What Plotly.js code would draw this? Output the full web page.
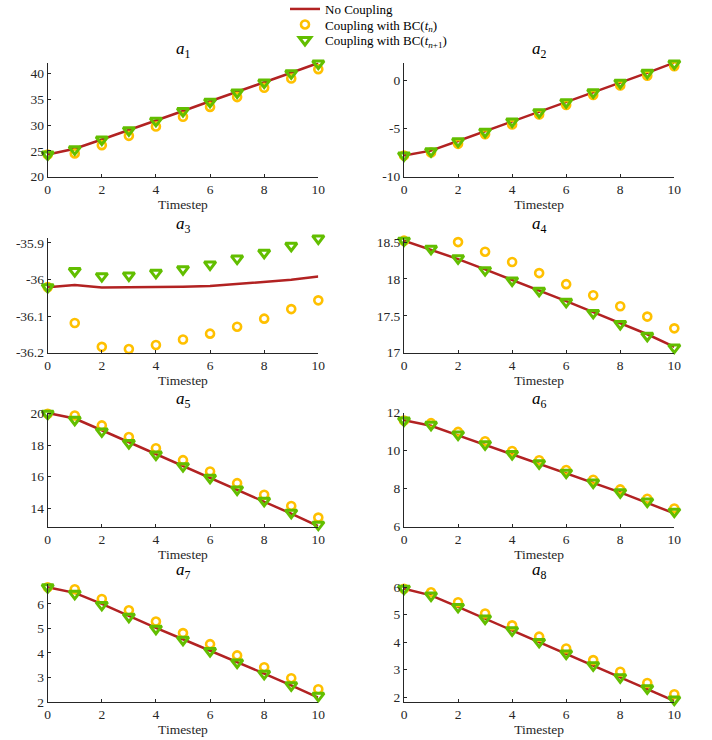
<!DOCTYPE html>
<html>
<head>
<meta charset="utf-8">
<script src="https://cdn.plot.ly/plotly-3.0.1.min.js"></script>
<style>html,body{margin:0;padding:0;background:#fff;}#chart{width:712px;height:740px;}</style>
</head>
<body>
<div id="chart"></div>
<script>
const timesteps = [0,1,2,3,4,5,6,7,8,9,10];

// No Coupling (line)
const noCoupling_a1 = [24.3,25.4,27.2,29.0,30.9,32.7,34.6,36.4,38.3,40.1,42.0];
const noCoupling_a2 = [-7.8,-7.3,-6.3,-5.3,-4.3,-3.3,-2.3,-1.3,-0.25,0.75,1.8];
const noCoupling_a3 = [-36.021,-36.015,-36.022,-36.022,-36.022,-36.020,-36.018,-36.013,-36.007,-36.001,-35.992];
const noCoupling_a4 = [18.52,18.40,18.27,18.13,17.99,17.85,17.70,17.55,17.40,17.25,17.08];
const noCoupling_a5 = [20.05,19.7,18.95,18.2,17.45,16.7,15.95,15.2,14.45,13.65,12.85];
const noCoupling_a6 = [11.6,11.3,10.8,10.3,9.8,9.3,8.8,8.3,7.8,7.25,6.7];
const noCoupling_a7 = [6.68,6.45,6.0,5.5,5.02,4.56,4.1,3.63,3.16,2.68,2.18];
const noCoupling_a8 = [5.94,5.7,5.28,4.85,4.42,4.0,3.57,3.14,2.72,2.3,1.87];

// Coupling with BC(t_n) (circles)
const bcTn_a1 = [24.3,24.5,26.1,27.9,29.7,31.6,33.5,35.4,37.2,39.0,40.8];
const bcTn_a2 = [-7.8,-7.5,-6.6,-5.6,-4.6,-3.56,-2.57,-1.54,-0.55,0.45,1.44];
const bcTn_a3 = [-36.021,-36.119,-36.184,-36.190,-36.179,-36.164,-36.148,-36.129,-36.107,-36.081,-36.057];
const bcTn_a4 = [18.52,18.57,18.50,18.37,18.23,18.08,17.93,17.78,17.63,17.49,17.33];
const bcTn_a5 = [20.0,19.89,19.26,18.52,17.81,17.05,16.33,15.59,14.85,14.14,13.40];
const bcTn_a6 = [11.58,11.44,10.98,10.49,9.98,9.49,8.98,8.47,7.96,7.47,6.96];
const bcTn_a7 = [6.68,6.60,6.20,5.74,5.28,4.81,4.36,3.90,3.42,2.97,2.52];
const bcTn_a8 = [5.94,5.81,5.45,5.04,4.61,4.20,3.77,3.35,2.93,2.52,2.11];

// Coupling with BC(t_{n+1}) (triangles)
const bcTn1_a1 = [24.3,25.3,27.2,29.0,30.8,32.7,34.5,36.3,38.2,40.0,41.9];
const bcTn1_a2 = [-7.8,-7.36,-6.34,-5.34,-4.28,-3.32,-2.29,-1.27,-0.27,0.75,1.71];
const bcTn1_a3 = [-36.021,-35.977,-35.991,-35.989,-35.982,-35.972,-35.959,-35.943,-35.927,-35.908,-35.888];
const bcTn1_a4 = [18.52,18.41,18.28,18.12,17.98,17.84,17.69,17.54,17.39,17.23,17.07];
const bcTn1_a5 = [20.0,19.62,18.88,18.14,17.41,16.67,15.93,15.19,14.47,13.71,12.95];
const bcTn1_a6 = [11.58,11.35,10.84,10.33,9.82,9.33,8.84,8.32,7.81,7.32,6.79];
const bcTn1_a7 = [6.68,6.41,5.96,5.48,4.99,4.54,4.08,3.61,3.15,2.68,2.25];
const bcTn1_a8 = [5.94,5.69,5.28,4.86,4.43,4.01,3.59,3.16,2.73,2.33,1.92];

// Tick labels
const xTickVals = [0,2,4,6,8,10];
const yTicks_a1 = [20,25,30,35,40];
const yTicks_a2 = [-10,-5,0];
const yTicks_a3 = [-36.2,-36.1,-36,-35.9];
const yTicks_a4 = [17,17.5,18,18.5];
const yTicks_a5 = [14,16,18,20];
const yTicks_a6 = [6,8,10,12];
const yTicks_a7 = [2,3,4,5,6];
const yTicks_a8 = [2,3,4,5,6];
const subplotTitles = ['1','2','3','4','5','6','7','8'];
const seriesNames = ['No Coupling', 'Coupling with BC(<i>t</i><sub><i>n</i></sub>)', 'Coupling with BC(<i>t</i><sub><i>n</i>+1</sub>)'];

const lineSets = [noCoupling_a1,noCoupling_a2,noCoupling_a3,noCoupling_a4,noCoupling_a5,noCoupling_a6,noCoupling_a7,noCoupling_a8];
const tnSets = [bcTn_a1,bcTn_a2,bcTn_a3,bcTn_a4,bcTn_a5,bcTn_a6,bcTn_a7,bcTn_a8];
const tn1Sets = [bcTn1_a1,bcTn1_a2,bcTn1_a3,bcTn1_a4,bcTn1_a5,bcTn1_a6,bcTn1_a7,bcTn1_a8];
const yTickSets = [yTicks_a1,yTicks_a2,yTicks_a3,yTicks_a4,yTicks_a5,yTicks_a6,yTicks_a7,yTicks_a8];
const yRanges = [[20,42.05],[-10,1.8],[-36.2,-35.886],[17,18.56],[12.82,20.08],[6,12],[2,6.8],[1.83,6.1]];

const W = 712, H = 740;
const colX = [[47.7,318.3],[404,674.3]];
const rowY = [[62.7,176.7],[237.7,352.7],[412.5,526.7],[584.3,702]];

const RED = '#B22222', YEL = '#FFC000', GRN = '#62BE00';
const FONT = 'Liberation Serif, DejaVu Serif, serif';
const AX = '#262626';
const TICKSIZE = 13.5;

const data = [];
function legendBox(yc){
  return {x: 285/W, xanchor: 'left', y: 1 - yc/H, yanchor: 'middle', bgcolor: 'rgba(0,0,0,0)',
          borderwidth: 0, font: {family: FONT, size: 13, color: '#000'}, itemwidth: 30};
}
const layout = {
  width: W, height: H,
  margin: {l:0,r:0,t:0,b:0, autoexpand: false},
  paper_bgcolor: '#fff', plot_bgcolor: '#fff',
  font: {family: FONT, size: 12, color: AX},
  showlegend: true,
  legend: legendBox(9),
  legend2: legendBox(24.5),
  legend3: legendBox(40),
  annotations: []
};

function fmt(v){ return String(v); }

for (let i = 0; i < 8; i++) {
  const col = i % 2, row = Math.floor(i / 2);
  const xn = i === 0 ? 'x' : 'x' + (i+1);
  const yn = i === 0 ? 'y' : 'y' + (i+1);
  const xk = i === 0 ? 'xaxis' : 'xaxis' + (i+1);
  const yk = i === 0 ? 'yaxis' : 'yaxis' + (i+1);
  data.push({x: timesteps, y: lineSets[i], xaxis: xn, yaxis: yn, type: 'scatter', mode: 'lines',
    line: {color: RED, width: 2.5}, name: seriesNames[0], legend: 'legend', showlegend: i === 0, cliponaxis: false});
  data.push({x: timesteps, y: tnSets[i], xaxis: xn, yaxis: yn, type: 'scatter', mode: 'markers',
    marker: {symbol: 'circle-open', size: 8, color: YEL, line: {color: YEL, width: 2.6}},
    name: seriesNames[1], legend: 'legend2', showlegend: i === 0, cliponaxis: false});
  data.push({x: timesteps, y: tn1Sets[i], xaxis: xn, yaxis: yn, type: 'scatter', mode: 'markers',
    marker: {symbol: 'triangle-down-open', size: 10, color: GRN, line: {color: GRN, width: 3}},
    name: seriesNames[2], legend: 'legend3', showlegend: i === 0, cliponaxis: false});

  const xd = [colX[col][0]/W, colX[col][1]/W];
  const yd = [1 - rowY[row][1]/H, 1 - rowY[row][0]/H];
  layout[xk] = {domain: xd, anchor: yn, range: [0,10], tickvals: xTickVals, ticktext: xTickVals.map(fmt),
    showline: true, linecolor: AX, linewidth: 1, ticks: 'inside', ticklen: 3, tickcolor: AX,
    showgrid: false, zeroline: false, automargin: false, tickfont: {family: FONT, size: TICKSIZE, color: AX},
    title: {text: 'Timestep', font: {family: FONT, size: TICKSIZE, color: AX}, standoff: 2}};
  layout[yk] = {domain: yd, anchor: xn, range: yRanges[i], tickvals: yTickSets[i], ticktext: yTickSets[i].map(fmt),
    showline: true, linecolor: AX, linewidth: 1, ticks: 'inside', ticklen: 3, tickcolor: AX,
    showgrid: false, zeroline: false, automargin: false, tickfont: {family: FONT, size: TICKSIZE, color: AX}};
  layout.annotations.push({xref: 'paper', yref: 'paper', x: (xd[0]+xd[1])/2, y: yd[1], xanchor: 'center', yanchor: 'bottom',
    yshift: 0, showarrow: false, text: '<i>a</i><sub>' + subplotTitles[i] + '</sub>', font: {family: FONT, size: 17, color: '#000'}});
}

Plotly.newPlot('chart', data, layout, {displayModeBar: false, staticPlot: true});
</script>
</body>
</html>
